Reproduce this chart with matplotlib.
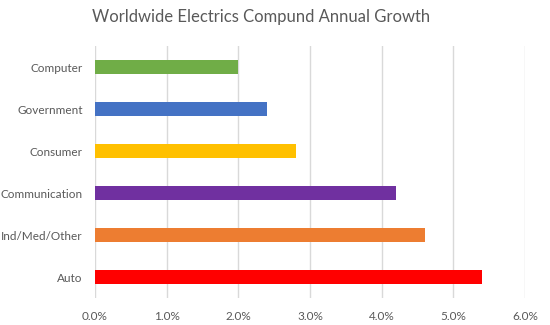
import matplotlib
matplotlib.use('Agg')
import matplotlib.pyplot as plt
from matplotlib.ticker import PercentFormatter
import numpy as np

categories = ['Auto', 'Ind/Med/Other', 'Communication', 'Consumer', 'Government', 'Computer']
growth = [5.4, 4.6, 4.2, 2.8, 2.4, 2.0]
colors = ['#FF0000', '#ED7D31', '#7030A0', '#FFC000', '#4472C4', '#70AD47']
xticks = [0, 1, 2, 3, 4, 5, 6]

plt.rcParams['font.family'] = ['Lato', 'DejaVu Sans']

fig = plt.figure(figsize=(5.5, 3.25), dpi=100)
ax = fig.add_axes([95/550, 27/325, 430/550, 252/325])

y = np.arange(len(categories))
ax.barh(y, growth, height=0.33, color=colors, zorder=3)

ax.set_xlim(0, 6)
ax.set_ylim(-0.5, len(categories) - 0.5)
ax.set_xticks(xticks)
ax.xaxis.set_major_formatter(PercentFormatter(decimals=1))
ax.set_yticks(y)
ax.set_yticklabels(categories)
ax.grid(axis='x', color='#D9D9D9', linewidth=1, zorder=0)
for s in ax.spines.values():
    s.set_visible(False)
ax.tick_params(length=0, labelsize=8.5, labelcolor='#595959')
ax.tick_params(axis='y', pad=9)
ax.tick_params(axis='x', pad=9)

fig.text(261/550, 1 - 17/325, 'Worldwide Electrics Compund Annual Growth',
         ha='center', va='center', fontsize=12, color='#595959')

fig.savefig('out.png', dpi=100)
